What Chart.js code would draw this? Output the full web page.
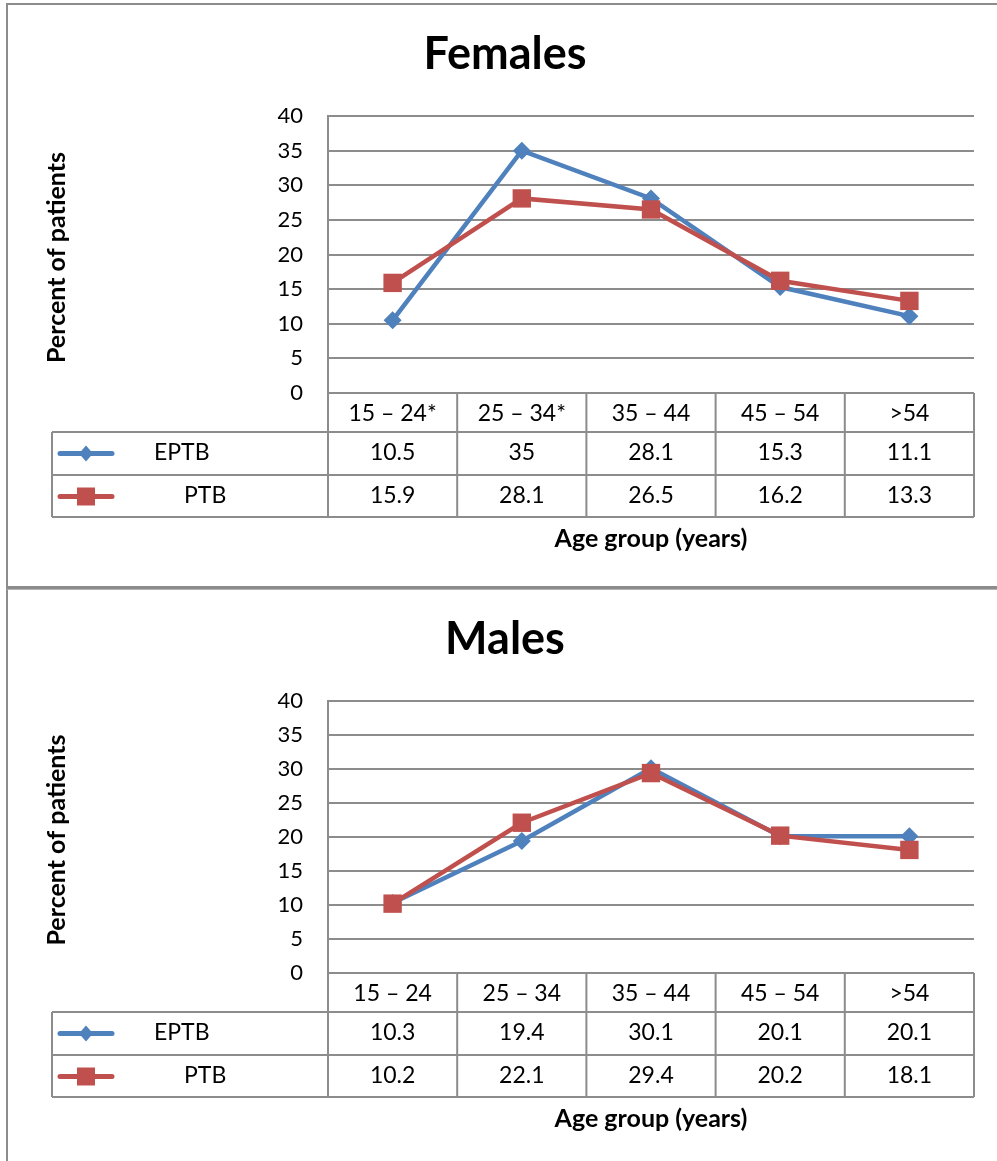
<!DOCTYPE html>
<html>
<head>
<meta charset="utf-8">
<script src="https://cdn.jsdelivr.net/npm/chart.js@4"></script>
<style>
  body { margin: 0; background: #fff; }
  #page { position: relative; width: 997px; height: 1161px; overflow: hidden; }
  canvas { position: absolute; left: 0; }
  .frame { position: absolute; border: 2px solid #8c8c8c; }
</style>
</head>
<body>
<div id="page">
  <div class="frame" style="left:6px;top:3px;width:1100px;height:581px;border-bottom-width:3px"></div>
  <div class="frame" style="left:6px;top:589px;width:1100px;height:1000px;border-width:1px 0 0 2px;border-color:#b4b4b4 #8c8c8c #8c8c8c #8c8c8c"></div>
  <canvas id="femalesChart" width="997" height="587" style="top:0"></canvas>
  <canvas id="malesChart" width="997" height="574" style="top:587px"></canvas>
</div>
<script>
const seriesNames = ['EPTB', 'PTB']
const seriesColours = ['#4f81bd', '#c0504d']

const femaleLabels = ['15 – 24*', '25 – 34*', '35 – 44', '45 – 54', '>54']
const femaleEPTB = [10.5, 35, 28.1, 15.3, 11.1]
const femalePTB = [15.9, 28.1, 26.5, 16.2, 13.3]

const maleLabels = ['15 – 24', '25 – 34', '35 – 44', '45 – 54', '>54']
const maleEPTB = [10.3, 19.4, 30.1, 20.1, 20.1]
const malePTB = [10.2, 22.1, 29.4, 20.2, 18.1]

const yMin = 0
const yMax = 40
const yStep = 5

const gridColour = '#8c8c8c'
const fontFamily = 'Lato, "Open Sans", sans-serif'

function drawMarker(ctx, style, x, y, colour) {
  ctx.fillStyle = colour
  ctx.beginPath()
  if (style === 'rectRot') {
    ctx.moveTo(x, y - 8)
    ctx.lineTo(x + 7, y)
    ctx.lineTo(x, y + 8)
    ctx.lineTo(x - 7, y)
  } else {
    ctx.rect(x - 9, y - 9, 18, 18)
  }
  ctx.closePath()
  ctx.fill()
}

// draws title, axis titles and the data table under the plot
const dataTablePlugin = {
  id: 'dataTable',
  afterDraw(chart, args, opts) {
    const ctx = chart.ctx
    const area = chart.chartArea
    const xScale = chart.scales.x
    const labels = chart.data.labels
    const colW = (area.right - area.left) / labels.length
    const tableLeft = 52
    const rowTops = [area.bottom, area.bottom + 39, area.bottom + 82, area.bottom + 124]

    ctx.save()
    ctx.fillStyle = '#000'

    // chart title
    ctx.font = 'bold 45px ' + fontFamily
    ctx.textAlign = 'center'
    ctx.textBaseline = 'alphabetic'
    ctx.fillText(opts.title, 505, area.top - 47)

    // y axis title
    ctx.save()
    ctx.translate(65, (area.top + area.bottom) / 2 + 3)
    ctx.rotate(-Math.PI / 2)
    ctx.font = 'bold 25px ' + fontFamily
    ctx.fillText('Percent of patients', 0, 0)
    ctx.restore()

    // x axis title
    ctx.font = 'bold 25px ' + fontFamily
    ctx.fillText('Age group (years)', (area.left + area.right) / 2, area.bottom + 154)

    // table lines
    ctx.strokeStyle = gridColour
    ctx.lineWidth = 2
    ctx.beginPath()
    for (let i = 1; i < rowTops.length; i++) {
      ctx.moveTo(tableLeft, rowTops[i])
      ctx.lineTo(area.right, rowTops[i])
    }
    ctx.moveTo(tableLeft, rowTops[1])
    ctx.lineTo(tableLeft, rowTops[3])
    for (let i = 0; i <= labels.length; i++) {
      const x = area.left + i * colW
      ctx.moveTo(x, rowTops[0])
      ctx.lineTo(x, rowTops[3])
    }
    ctx.stroke()

    // header and values
    ctx.font = '23px ' + fontFamily
    ctx.fillStyle = '#000'
    ctx.textAlign = 'center'
    for (let i = 0; i < labels.length; i++) {
      const x = xScale.getPixelForValue(i)
      ctx.fillText(labels[i], x, rowTops[0] + 28)
      chart.data.datasets.forEach(function (ds) {
        const row = seriesNames.indexOf(ds.label) + 1
        ctx.fillText(String(ds.data[i]), x, rowTops[row] + 28)
      })
    }

    // legend keys in the table
    const textLeft = [154, 184]
    chart.data.datasets.forEach(function (ds) {
      const row = seriesNames.indexOf(ds.label) + 1
      const cy = rowTops[row] + 21.5
      ctx.strokeStyle = ds.borderColor
      ctx.lineWidth = 5
      ctx.lineCap = 'round'
      ctx.beginPath()
      ctx.moveTo(60, cy)
      ctx.lineTo(112, cy)
      ctx.stroke()
      drawMarker(ctx, ds.pointStyle, 86, cy, ds.borderColor)
      ctx.fillStyle = '#000'
      ctx.textAlign = 'left'
      ctx.fillText(ds.label, textLeft[row - 1], rowTops[row] + 28)
    })

    ctx.restore()
  }
}

function makeChart(canvasId, title, labels, eptb, ptb, topPad, bottomPad) {
  return new Chart(document.getElementById(canvasId).getContext('2d'), {
    type: 'line',
    data: {
      labels: labels,
      datasets: [
        {
          label: seriesNames[0],
          data: eptb,
          borderColor: seriesColours[0],
          backgroundColor: seriesColours[0],
          borderWidth: 4.5,
          pointStyle: 'rectRot',
          pointRadius: 9,
          pointBorderWidth: 0,
          order: 2
        },
        {
          label: seriesNames[1],
          data: ptb,
          borderColor: seriesColours[1],
          backgroundColor: seriesColours[1],
          borderWidth: 4.5,
          pointStyle: 'rect',
          pointRadius: 13,
          pointBorderWidth: 0,
          order: 1
        }
      ]
    },
    options: {
      responsive: false,
      animation: false,
      layout: {padding: {top: topPad, bottom: bottomPad, left: 0, right: 23}},
      plugins: {
        legend: {display: false},
        tooltip: {enabled: false},
        dataTable: {title: title}
      },
      scales: {
        x: {type: 'category', offset: true, display: false},
        y: {
          min: yMin,
          max: yMax,
          ticks: {stepSize: yStep, color: '#000', font: {family: fontFamily, size: 22}, padding: 25},
          grid: {color: gridColour, lineWidth: 2, drawTicks: false},
          border: {display: true, color: gridColour, width: 2},
          afterFit: function (scale) { scale.width = 328 }
        }
      }
    },
    plugins: [dataTablePlugin]
  })
}

const femalesChart = makeChart('femalesChart', 'Females', femaleLabels, femaleEPTB, femalePTB, 116, 194)
const malesChart = makeChart('malesChart', 'Males', maleLabels, maleEPTB, malePTB, 114, 188)
</script>
</body>
</html>
